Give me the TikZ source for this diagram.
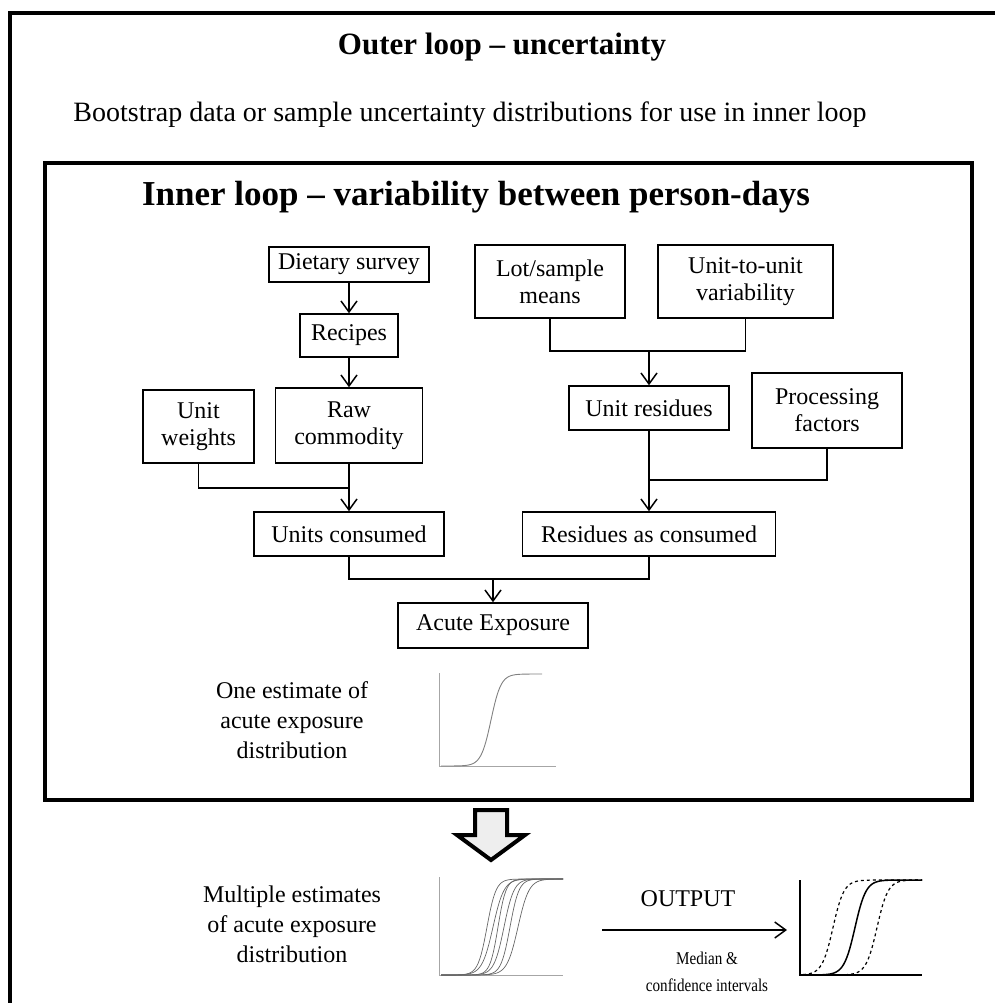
\documentclass[tikz,border=0pt]{standalone}
\usepackage{fontspec}
\setmainfont{Liberation Serif}
\usepackage{graphicx}
\usetikzlibrary{arrows.meta}
\tikzset{
  box/.style={draw, line width=1.5pt, align=center, inner sep=0pt, font=\fontsize{24}{27}\selectfont},
  arr/.style={line width=1.5pt, -{Straight Barb[length=11pt,width=16pt,line width=1.5pt]}},
  ln/.style={line width=1.5pt},
  lbl/.style={align=center, inner sep=0pt, font=\fontsize{24}{30}\selectfont},
  ttl/.style={inner sep=0pt, font=\bfseries\fontsize{31}{34}\selectfont},
  frame/.style={line width=4pt},
  ax/.style={gray!70, line width=1pt},
  cv/.style={gray, line width=0.9pt},
}
\begin{document}
\begin{tikzpicture}[x=1pt,y=-1pt]
\useasboundingbox (0,0) rectangle (994,1003);
% outer loop frame
\draw[frame, line join=miter] (10,1010) -- (10,13) -- (1000,13);
\node[ttl] (otitle) at (502,47) {Outer loop – uncertainty};
\node[inner sep=0pt, font=\fontsize{28}{32}\selectfont] (sub) at (470,115) {Bootstrap data or sample uncertainty distributions for use in inner loop};
% inner loop frame
\node[draw, frame, minimum width=927pt, minimum height=637pt, inner sep=0pt] (inner) at (508.5,481.5) {};
\node[ttl, font=\bfseries\fontsize{35}{38}\selectfont] (ititle) at (476,197) {Inner loop – variability between person-days};
% nodes
\node[box, minimum width=160pt, minimum height=35pt] (diet) at (349,264.5) {Dietary survey};
\node[box, minimum width=98pt, minimum height=43pt] (rec) at (349,335.5) {Recipes};
\node[box, minimum width=147pt, minimum height=75pt] (raw) at (349,425.5) {Raw\\commodity};
\node[box, minimum width=111pt, minimum height=73pt] (uw) at (198.5,426.5) {Unit\\weights};
\node[box, minimum width=150pt, minimum height=73pt] (lot) at (550,281.5) {Lot/sample\\means};
\node[box, minimum width=175pt, minimum height=73pt] (utu) at (745.5,281.5) {Unit-to-unit\\variability};
\node[box, minimum width=160pt, minimum height=44pt] (ur) at (649,408) {Unit residues};
\node[box, minimum width=150pt, minimum height=75pt] (pf) at (827,410.5) {Processing\\factors};
\node[box, minimum width=190pt, minimum height=44pt] (uc) at (349,534) {Units consumed};
\node[box, minimum width=253pt, minimum height=44pt] (rac) at (649,534) {Residues as consumed};
\node[box, minimum width=190pt, minimum height=45pt] (ae) at (493,625.5) {Acute Exposure};
% junctions
\coordinate (j1) at (349,488);
\coordinate (j2) at (649,351);
\coordinate (j3) at (649,480);
\coordinate (j4) at (493,579);
% connectors
\draw[arr] (diet) -- (rec);
\draw[arr] (rec) -- (raw);
\draw[ln] (uw.south) |- (j1);
\draw[arr] (raw) -- (uc);
\draw[ln] (lot.south) |- (j2) -| (utu.south);
\draw[arr] (j2) -- (ur.north);
\draw[ln] (pf.south) |- (j3);
\draw[arr] (ur) -- (rac);
\draw[ln] (uc.south) |- (j4) -| (rac.south);
\draw[arr] (j4) -- (ae.north);
% one estimate
\node[lbl] (one) at (292,720) {One estimate of\\acute exposure\\distribution};
\draw[ax] (439,673) -- (439,766) -- (556,766);
\draw[cv, domain=441:542, samples=80] plot (\x, {720 - 46*tanh((\x-491)/10)});
% big arrow
\draw[line width=4pt, fill=gray!13, line join=miter] (475,810) -- (507,810) -- (507,835) -- (525,835) -- (491,860) -- (457,835) -- (475,835) -- cycle;
% multiple estimates
\node[lbl] (multi) at (292,924) {Multiple estimates\\of acute exposure\\distribution};
\draw[ax] (439,877) -- (439,975) -- (563,975);
\foreach \m/\s in {487/9, 493/11, 498/8, 504/10, 510/9, 518/11}{
  \draw[cv, gray!80!black, line width=0.7pt, domain=441:563, samples=80] plot (\x, {927 - 48*tanh((\x-\m)/\s)});
}
% output
\node[lbl] (out) at (688,899) {OUTPUT};
\coordinate (oa1) at (602,930);
\coordinate (oa2) at (787,930);
\draw[arr] (oa1) -- (oa2);
\node[align=center, inner sep=0pt, font=\fontsize{18}{27}\selectfont] (med) at (707,972) {\scalebox{0.84}[1]{Median \&}\\\scalebox{0.84}[1]{confidence intervals}};
\draw[line width=1.5pt] (800,880) -- (800,975) -- (922,975);
\draw[line width=1.5pt, domain=803:922, samples=80] plot (\x, {927.5 - 47.5*tanh((\x-855)/11)});
\draw[line width=1.2pt, dashed, domain=803:922, samples=80] plot (\x, {927.5 - 47.5*tanh((\x-833)/11)});
\draw[line width=1.2pt, dashed, domain=803:922, samples=80] plot (\x, {927.5 - 47.5*tanh((\x-877)/11)});
\end{tikzpicture}
\end{document}
